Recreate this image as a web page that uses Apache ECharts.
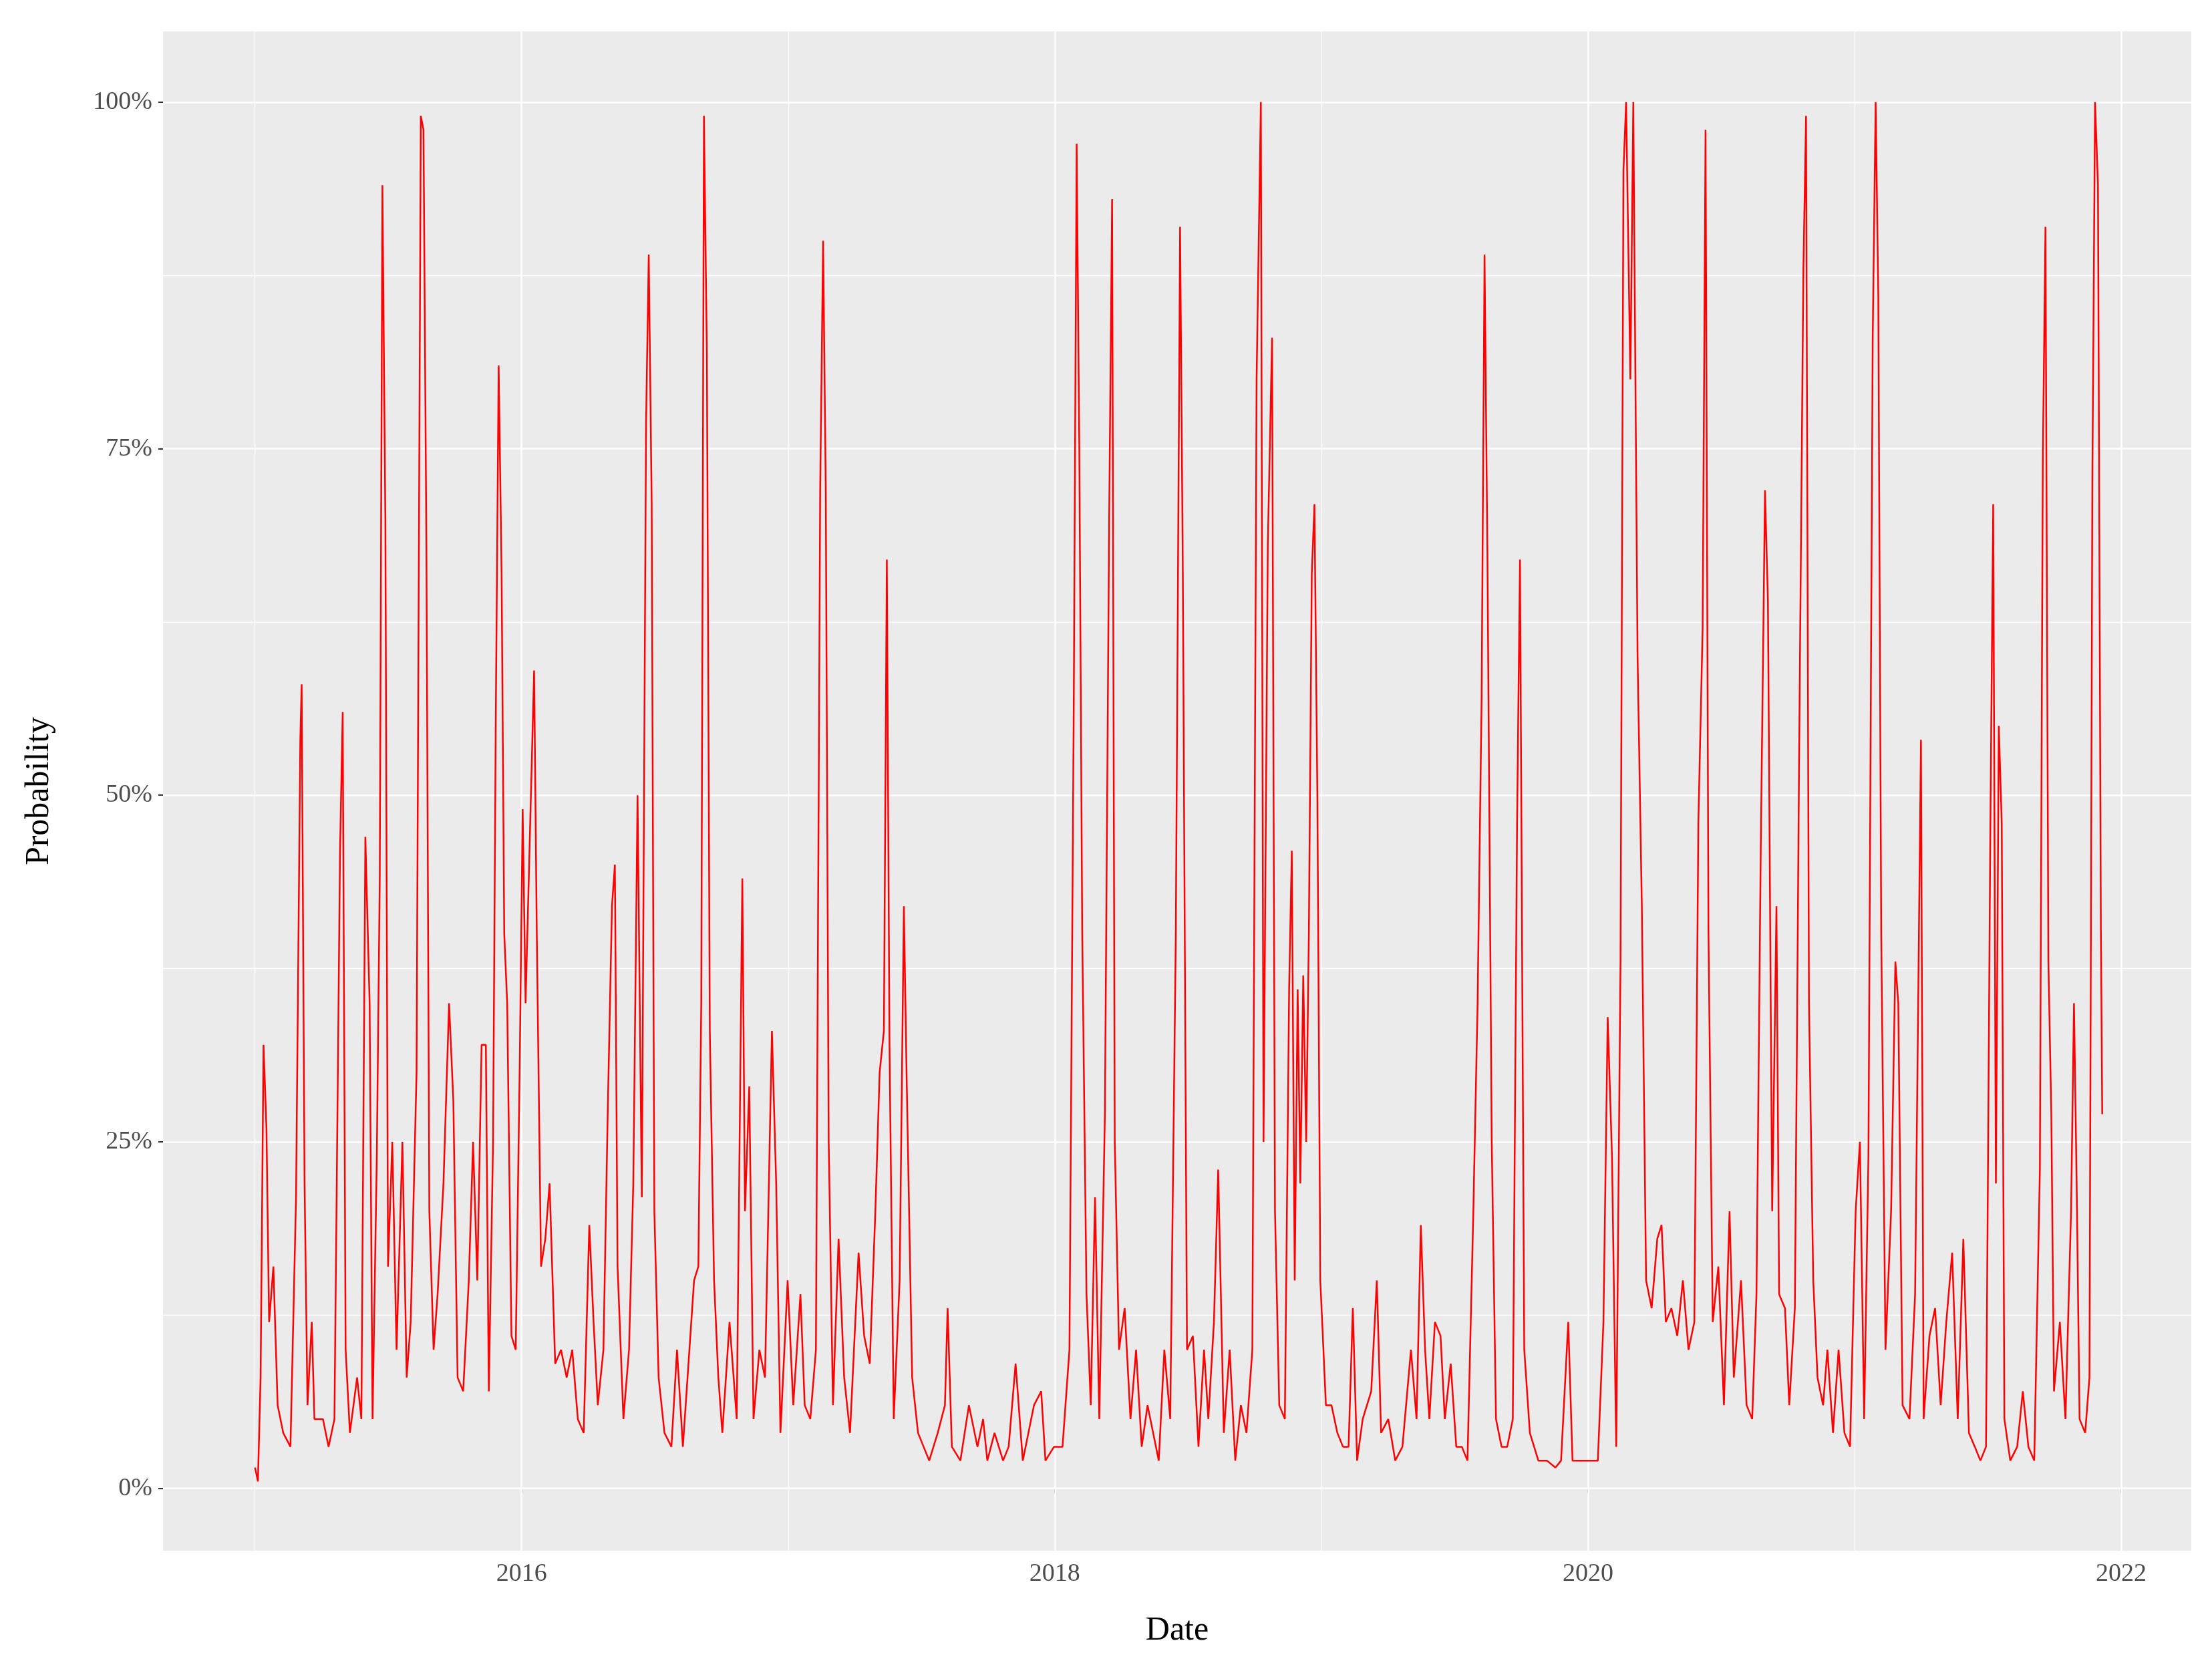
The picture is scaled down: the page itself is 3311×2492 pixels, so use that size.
<!DOCTYPE html>
<html><head><meta charset="utf-8">
<script src="https://cdn.jsdelivr.net/npm/echarts@6/dist/echarts.min.js"></script>
<style>html,body{margin:0;padding:0;background:#fff}#c{width:3311px;height:2492px}</style>
</head><body><div id="c"></div>
<script>
// time offsets in years since 2015-01-01
const t = [0,.011,.021,.032,.043,.053,.069,.085,.106,.133,.154,.170,.175,.186,.197,.213,.223,.255,.276,.298,.319,.329,.340,.356,.383,.399,.414,.430,.441,.457,.468,.478,.489,.499,.515,.531,.553,.569,.584,.606,.622,.632,.643,.654,.670,.685,.707,.728,.744,.760,.781,.802,.818,.834,.850,.866,.877,.893,.903,.914,.925,.935,.946,.962,.978,.994,1.004,1.015,1.031,1.047,1.057,1.073,1.089,1.105,1.126,1.148,1.169,1.190,1.211,1.233,1.254,1.270,1.286,1.307,1.323,1.339,1.350,1.360,1.382,1.403,1.419,1.435,1.451,1.467,1.477,1.488,1.498,1.514,1.536,1.562,1.583,1.605,1.626,1.647,1.663,1.674,1.684,1.695,1.706,1.722,1.738,1.753,1.780,1.807,1.828,1.838,1.854,1.870,1.892,1.913,1.939,1.955,1.971,1.998,2.019,2.046,2.062,2.083,2.104,2.120,2.131,2.141,2.152,2.168,2.189,2.210,2.232,2.264,2.285,2.306,2.327,2.343,2.359,2.370,2.380,2.396,2.418,2.434,2.444,2.465,2.487,2.508,2.529,2.561,2.588,2.598,2.614,2.646,2.678,2.710,2.731,2.747,2.774,2.806,2.827,2.853,2.880,2.901,2.922,2.949,2.965,2.997,3.029,3.055,3.071,3.082,3.092,3.103,3.119,3.135,3.151,3.167,3.188,3.204,3.215,3.225,3.241,3.262,3.284,3.305,3.326,3.348,3.369,3.390,3.411,3.433,3.454,3.470,3.480,3.496,3.518,3.539,3.560,3.576,3.597,3.613,3.634,3.656,3.677,3.698,3.719,3.741,3.757,3.773,3.783,3.799,3.815,3.826,3.842,3.863,3.879,3.889,3.900,3.911,3.921,3.932,3.943,3.953,3.964,3.974,3.985,3.996,4.017,4.038,4.060,4.081,4.102,4.118,4.134,4.155,4.187,4.208,4.224,4.251,4.277,4.304,4.336,4.357,4.373,4.389,4.405,4.426,4.447,4.463,4.485,4.506,4.527,4.548,4.570,4.586,4.601,4.612,4.623,4.639,4.655,4.676,4.697,4.718,4.734,4.745,4.761,4.782,4.814,4.846,4.878,4.899,4.926,4.942,4.973,5.005,5.037,5.058,5.074,5.090,5.106,5.122,5.133,5.143,5.159,5.170,5.186,5.202,5.218,5.239,5.260,5.276,5.292,5.313,5.335,5.356,5.377,5.399,5.414,5.430,5.441,5.452,5.468,5.489,5.510,5.531,5.547,5.574,5.595,5.616,5.632,5.648,5.664,5.675,5.691,5.707,5.717,5.739,5.755,5.776,5.792,5.808,5.818,5.829,5.845,5.861,5.882,5.898,5.919,5.940,5.962,5.983,6.004,6.020,6.036,6.052,6.068,6.079,6.089,6.100,6.116,6.137,6.153,6.164,6.180,6.206,6.227,6.249,6.259,6.281,6.302,6.323,6.344,6.366,6.387,6.408,6.429,6.451,6.472,6.493,6.509,6.520,6.530,6.541,6.552,6.562,6.584,6.610,6.631,6.652,6.674,6.695,6.706,6.716,6.727,6.738,6.748,6.770,6.791,6.812,6.823,6.833,6.844,6.865,6.881,6.892,6.902,6.913,6.924,6.929];
// probability values in percent
const prob = [1.5,0.5,8,32,26,12,16,6,4,3,21,54,58,22,6,12,5,5,3,5,46,56,10,4,8,5,47,35,5,24,44,94,70,16,25,10,25,8,12,30,99,98,68,20,10,14,22,35,28,8,7,15,25,15,32,32,7,25,55,81,66,40,35,11,10,32,49,35,47,59,40,16,18,22,9,10,8,10,5,4,19,12,6,10,27,42,45,16,5,10,22,50,21,77,89,71,20,8,4,3,10,3,9,15,16,35,99,82,33,15,8,4,12,5,44,20,29,5,10,8,33,22,4,15,6,14,6,5,10,72,90,72,25,6,18,8,4,17,11,9,20,30,33,67,32,5,15,42,30,8,4,3,2,4,6,13,3,2,6,3,5,2,4,2,3,9,2,4,6,7,2,3,3,10,56,97,75,40,14,6,21,5,27,70,93,25,10,13,5,10,3,6,4,2,10,5,40,91,67,10,11,3,10,5,12,23,4,10,2,6,4,10,80,100,25,68,83,20,6,5,36,46,15,36,22,37,25,40,66,71,50,15,6,6,4,3,3,13,2,5,7,15,4,5,2,3,10,5,19,10,5,12,11,5,9,3,3,2,20,35,57,89,67,25,5,3,3,5,48,67,10,4,2,2,1.5,2,12,2,2,2,2,12,34,24,3,38,95,100,80,100,60,42,15,13,18,19,12,13,11,15,10,12,48,62,98,40,12,16,6,20,8,15,6,5,14,46,72,64,20,42,14,13,6,13,53,88,99,35,15,8,6,10,4,10,4,3,20,25,5,24,83,100,86,40,10,20,38,35,6,5,14,54,5,11,13,6,12,17,5,18,4,3,2,3,47,71,22,55,48,5,2,3,7,3,2,23,74,91,38,27,7,12,5,20,35,22,5,4,8,73,100,94,40,27];
const xTicks = [2016,2018,2020,2022];
const xMinor = [2015,2017,2019,2021];
const yTicks = [0,25,50,75,100];
const yMinor = [12.5,37.5,62.5,87.5];

const data = t.map((v,i)=>[2015+v, prob[i]]);
const font = 'Liberation Serif';
const vline = (arr,w)=>arr.map(v=>({xAxis:v,lineStyle:{color:'#fff',width:w,type:'solid'}}));
const hline = (arr,w)=>arr.map(v=>({yAxis:v,lineStyle:{color:'#fff',width:w,type:'solid'}}));
const chart = echarts.init(document.getElementById('c'));
chart.setOption({
  animation:false,
  backgroundColor:'#fff',
  grid:{left:244,right:31,top:47,bottom:171,show:true,backgroundColor:'#EBEBEB',borderWidth:0},
  xAxis:{type:'value',min:2014.655,max:2022.263,
    name:'Date',nameLocation:'middle',nameGap:95,
    nameTextStyle:{fontFamily:font,fontSize:50,color:'#000'},
    axisLine:{show:false},splitLine:{show:false},
    axisTick:{show:true,customValues:xTicks,length:7,lineStyle:{color:'#333',width:2}},
    axisLabel:{customValues:xTicks,margin:16,fontFamily:font,fontSize:38,color:'#4D4D4D',formatter:v=>String(v)}},
  yAxis:{type:'value',min:-4.5,max:105.1,
    name:'Probability',nameLocation:'middle',nameGap:160,
    nameTextStyle:{fontFamily:font,fontSize:50,color:'#000'},
    axisLine:{show:false},splitLine:{show:false},
    axisTick:{show:true,customValues:yTicks,length:7,lineStyle:{color:'#333',width:2}},
    axisLabel:{customValues:yTicks,margin:16,fontFamily:font,fontSize:38,color:'#4D4D4D',formatter:'{value}%'}},
  series:[{
    type:'line',data:data,showSymbol:false,symbol:'none',
    lineStyle:{color:'#FF0000',width:2.5},z:3,
    markLine:{silent:true,symbol:['none','none'],label:{show:false},z:1,animation:false,
      data:[...vline(xMinor,1.3),...vline(xTicks,2.6),...hline(yMinor,1.3),...hline(yTicks,2.6)]}
  }]
});
</script></body></html>
